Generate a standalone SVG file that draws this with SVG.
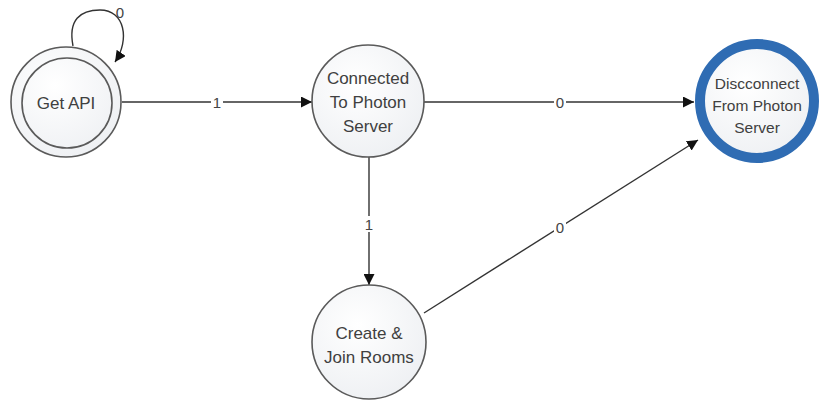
<svg xmlns="http://www.w3.org/2000/svg" width="825" height="402" viewBox="0 0 825 402">
<defs>
<radialGradient id="g" cx="0.4" cy="0.35" r="0.7">
<stop offset="0" stop-color="#ffffff"/>
<stop offset="1" stop-color="#eef0f3"/>
</radialGradient>
<marker id="arr" viewBox="0 0 10 10" refX="10" refY="5" markerWidth="11" markerHeight="11" markerUnits="userSpaceOnUse" orient="auto">
<path d="M0,0 L10,5 L0,10 z" fill="#111"/>
</marker>
</defs>
<style>
.st{fill:url(#g);stroke:#5a5a5a;stroke-width:1.6}
.lbl{font-family:"Liberation Sans",Arial,sans-serif;font-size:17px;fill:#404040;text-anchor:middle}
.sm{font-family:"Liberation Sans",Arial,sans-serif;font-size:15.5px;fill:#404040;text-anchor:middle}
.edge{fill:none;stroke:#333;stroke-width:1.4;marker-end:url(#arr)}
.el{font-family:"Liberation Sans",Arial,sans-serif;font-size:15px;fill:#444;text-anchor:middle}
.bg{fill:#fff}
</style>
<rect width="825" height="402" fill="#fff"/>
<g id="connectors">
<path class="edge" d="M73,46 C68,20 80,10 100,10 C125,10 130,40 115,62"/>
<text class="el" x="120" y="18">0</text>
<line class="edge" x1="122" y1="102" x2="312" y2="102"/>
<rect class="bg" x="211" y="95" width="12" height="14"/>
<text class="el" x="217" y="108">1</text>
<line class="edge" x1="424" y1="102" x2="694" y2="102"/>
<rect class="bg" x="554" y="95" width="12" height="14"/>
<text class="el" x="560" y="108">0</text>
<line class="edge" x1="369" y1="157" x2="369" y2="285"/>
<rect class="bg" x="363" y="216" width="12" height="16"/>
<text class="el" x="369" y="230">1</text>
<line class="edge" x1="424" y1="313" x2="698" y2="140"/>
<rect class="bg" x="554" y="220" width="12" height="16"/>
<text class="el" x="560" y="233">0</text>
</g>
<g id="get-api">
<circle class="st" cx="66" cy="102" r="55"/>
<circle fill="none" stroke="#5a5a5a" stroke-width="1.6" cx="67" cy="103" r="45"/>
<text class="lbl" x="66" y="109">Get API</text>
</g>
<g id="connected">
<circle class="st" cx="368" cy="101" r="56"/>
<text class="lbl" x="368" y="84">Connected</text>
<text class="lbl" x="368" y="108">To Photon</text>
<text class="lbl" x="368" y="132">Server</text>
</g>
<g id="disconnect">
<circle cx="757" cy="101" r="57" fill="url(#g)" stroke="#2f6cb3" stroke-width="10"/>
<text class="sm" x="757" y="89">Discconnect</text>
<text class="sm" x="757" y="111">From Photon</text>
<text class="sm" x="757" y="133">Server</text>
</g>
<g id="create-join">
<circle class="st" cx="369" cy="342" r="57"/>
<text class="lbl" x="369" y="339">Create &amp;</text>
<text class="lbl" x="369" y="363">Join Rooms</text>
</g>
</svg>
